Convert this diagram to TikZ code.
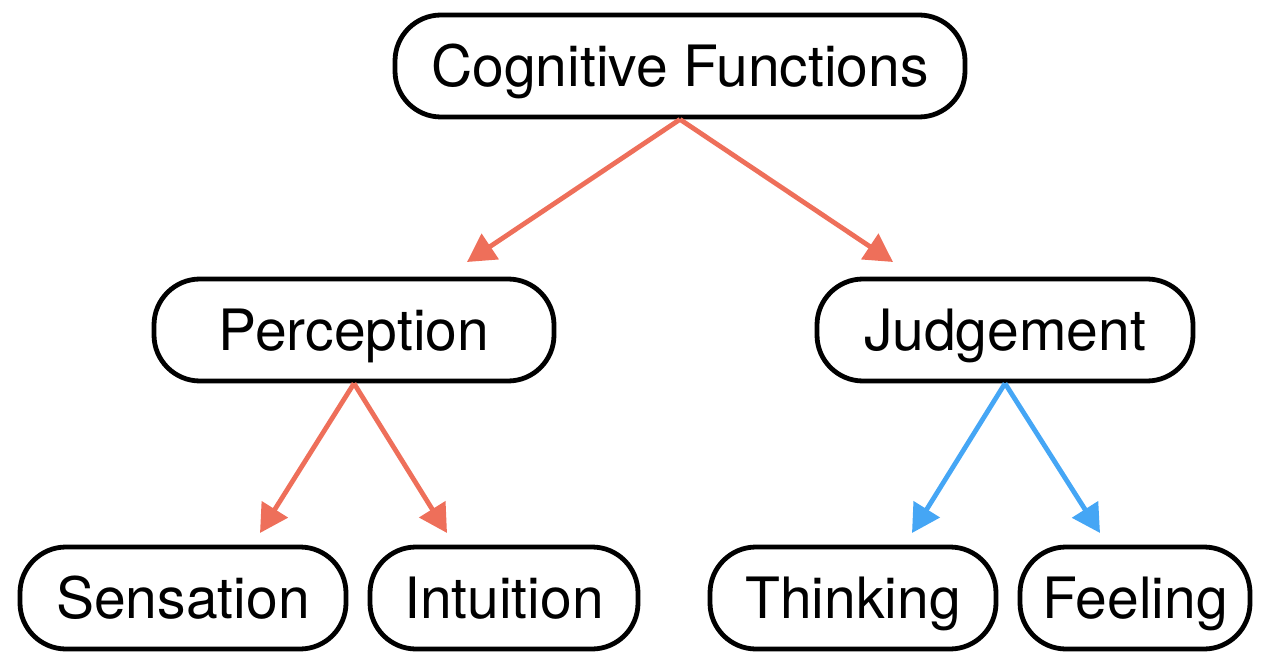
\documentclass[tikz,border=0pt]{standalone}
\usepackage{fontspec}
\setmainfont{TeX Gyre Heros}
\usetikzlibrary{arrows.meta}
\definecolor{linkred}{HTML}{EE6F5A}
\definecolor{linkblue}{HTML}{45A6F5}
\begin{document}
\begin{tikzpicture}[x=0.5pt, y=-0.5pt,
    box/.style={draw=black, line width=2.4pt, rounded corners=23pt,
        minimum height=51pt, inner sep=0pt, text height=20.5pt, text depth=0pt,
        font=\fontsize{28.5}{34}\selectfont},
    link/.style={line width=2.4pt, -{Triangle[length=14pt,width=15pt]}}
]
\useasboundingbox (0,0) rectangle (1284,668);
% top level
\node[box, minimum width=285pt] (cf) at (680,66) {Cognitive Functions};
% second level
\node[box, minimum width=200pt] (per) at (354,330) {Perception};
\node[box, minimum width=188pt] (jud) at (1005,330) {Judgement};
% third level
\node[box, minimum width=163pt] (sen) at (183,598) {Sensation};
\node[box, minimum width=134pt] (int) at (504,598) {Intuition};
\node[box, minimum width=143pt] (thi) at (853,598) {Thinking};
\node[box, minimum width=115pt] (fee) at (1135,598) {Feeling};
% free arrow ends
\coordinate (toPer) at (467,262);
\coordinate (toJud) at (893,262);
\coordinate (toSen) at (260,533);
\coordinate (toInt) at (447,533);
\coordinate (toThi) at (912,533);
\coordinate (toFee) at (1100,533);
\draw[link, linkred] (cf.south) -- (toPer);
\draw[link, linkred] (cf.south) -- (toJud);
\draw[link, linkred] (per.south) -- (toSen);
\draw[link, linkred] (per.south) -- (toInt);
\draw[link, linkblue] (jud.south) -- (toThi);
\draw[link, linkblue] (jud.south) -- (toFee);
\end{tikzpicture}
\end{document}
